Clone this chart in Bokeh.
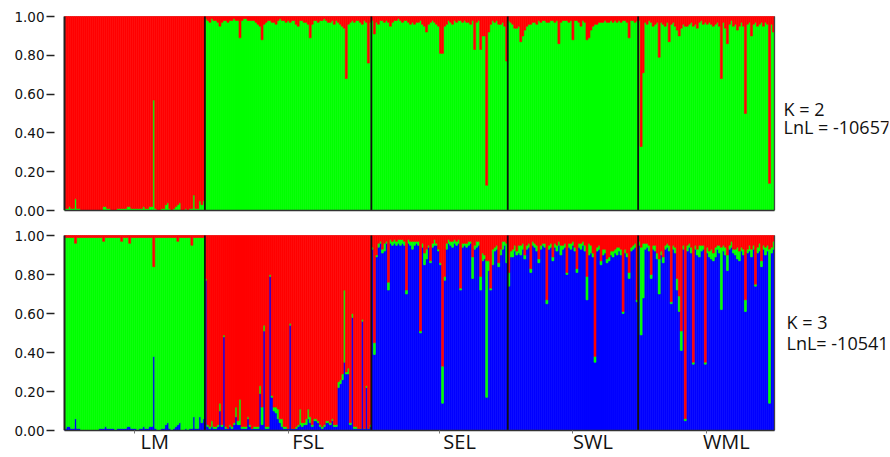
from bokeh.plotting import figure
from bokeh.layouts import column
from bokeh.models import (Range1d, FixedTicker, NumeralTickFormatter, LinearAxis,
                          Label, ColumnDataSource)
from bokeh.embed import file_html
from bokeh.resources import INLINE

groups = ["LM", "FSL", "SEL", "SWL", "WML"]

# ---------- K = 2 : membership in the green cluster (rest = red) ----------
lm_k2_green = [
    0.01, 0.01, 0.02, 0.01, 0.01, 0.06, 0.01, 0.01, 0.00, 0.00,
    0.00, 0.00, 0.00, 0.00, 0.00, 0.00, 0.00, 0.00, 0.00, 0.02,
    0.02, 0.01, 0.01, 0.00, 0.00, 0.00, 0.01, 0.01, 0.01, 0.01,
    0.01, 0.02, 0.02, 0.01, 0.01, 0.01, 0.01, 0.01, 0.01, 0.02,
    0.01, 0.01, 0.02, 0.02, 0.57, 0.01, 0.00, 0.00, 0.01, 0.01,
    0.03, 0.04, 0.01, 0.00, 0.01, 0.02, 0.03, 0.04, 0.00, 0.00,
    0.01, 0.00, 0.01, 0.01, 0.08, 0.01, 0.01, 0.05, 0.03, 0.05]
fsl_k2_green = [
    0.99, 0.98, 0.97, 0.99, 0.98, 0.98, 0.97, 0.95, 0.97, 0.98,
    0.98, 0.97, 0.98, 0.98, 0.99, 0.98, 0.98, 0.89, 0.98, 0.99,
    0.99, 0.98, 0.98, 0.98, 0.98, 0.97, 0.96, 0.95, 0.88, 0.96,
    0.97, 0.98, 0.98, 0.97, 0.97, 0.96, 0.98, 0.99, 0.98, 0.98,
    0.97, 0.98, 0.97, 0.98, 0.98, 0.96, 0.95, 0.98, 0.98, 0.97,
    0.97, 0.96, 0.89, 0.96, 0.98, 0.98, 0.97, 0.98, 0.98, 0.99,
    0.98, 0.97, 0.97, 0.98, 0.96, 0.98, 0.97, 0.96, 0.95, 0.94,
    0.68, 0.96, 0.97, 0.98, 0.97, 0.98, 0.98, 0.97, 0.96, 0.98,
    0.97, 0.76, 0.97]
sel_k2_green = [
    0.98, 0.91, 0.97, 0.96, 0.98, 0.98, 0.97, 0.98, 0.97, 0.95,
    0.97, 0.98, 0.98, 0.99, 0.98, 0.97, 0.98, 0.98, 0.97, 0.96,
    0.97, 0.96, 0.97, 0.97, 0.98, 0.96, 0.95, 0.92, 0.96, 0.97,
    0.98, 0.97, 0.96, 0.95, 0.81, 0.81, 0.95, 0.96, 0.98, 0.97,
    0.96, 0.98, 0.97, 0.98, 0.98, 0.97, 0.98, 0.97, 0.97, 0.96,
    0.98, 0.83, 0.97, 0.98, 0.83, 0.90, 0.90, 0.13, 0.92, 0.96,
    0.98, 0.97, 0.98, 0.96, 0.96, 0.97, 0.95, 0.77]
swl_k2_green = [
    0.98, 0.97, 0.96, 0.94, 0.94, 0.95, 0.87, 0.90, 0.93, 0.95,
    0.96, 0.96, 0.97, 0.97, 0.96, 0.98, 0.97, 0.98, 0.98, 0.97,
    0.97, 0.98, 0.98, 0.97, 0.98, 0.86, 0.97, 0.98, 0.98, 0.98,
    0.97, 0.98, 0.88, 0.98, 0.98, 0.97, 0.95, 0.98, 0.97, 0.88,
    0.89, 0.93, 0.95, 0.96, 0.96, 0.97, 0.97, 0.97, 0.98, 0.97,
    0.97, 0.98, 0.97, 0.98, 0.97, 0.98, 0.97, 0.98, 0.98, 0.97,
    0.89, 0.98, 0.98, 0.97, 0.98]
wml_k2_green = [
    0.98, 0.33, 0.71, 0.97, 0.96, 0.98, 0.97, 0.95, 0.96, 0.97,
    0.79, 0.97, 0.96, 0.95, 0.97, 0.87, 0.96, 0.97, 0.95, 0.93,
    0.90, 0.94, 0.96, 0.95, 0.95, 0.96, 0.97, 0.95, 0.96, 0.94,
    0.97, 0.98, 0.96, 0.97, 0.96, 0.97, 0.96, 0.95, 0.96, 0.97,
    0.95, 0.68, 0.97, 0.94, 0.86, 0.96, 0.98, 0.95, 0.96, 0.93,
    0.95, 0.97, 0.95, 0.50, 0.96, 0.97, 0.90, 0.96, 0.97, 0.95,
    0.96, 0.97, 0.95, 0.97, 0.96, 0.14, 0.96, 0.92]

# ---------- K = 3 : blue (bottom), green (middle); rest = red (top) ----------
lm_k3_blue = [
    0.01, 0.02, 0.02, 0.01, 0.01, 0.06, 0.01, 0.01, 0.00, 0.00,
    0.00, 0.00, 0.00, 0.00, 0.00, 0.00, 0.00, 0.01, 0.01, 0.01,
    0.02, 0.01, 0.01, 0.01, 0.01, 0.00, 0.01, 0.01, 0.01, 0.01,
    0.01, 0.02, 0.02, 0.01, 0.01, 0.01, 0.00, 0.01, 0.01, 0.02,
    0.01, 0.01, 0.02, 0.02, 0.38, 0.01, 0.00, 0.00, 0.01, 0.01,
    0.03, 0.04, 0.01, 0.00, 0.01, 0.02, 0.03, 0.04, 0.00, 0.00,
    0.01, 0.00, 0.01, 0.01, 0.07, 0.01, 0.01, 0.07, 0.04, 0.06]
lm_k3_green = [
    0.98, 0.97, 0.97, 0.98, 0.98, 0.90, 0.98, 0.98, 0.99, 0.99,
    0.99, 0.99, 0.99, 0.99, 0.99, 0.99, 0.99, 0.98, 0.98, 0.96,
    0.97, 0.98, 0.98, 0.98, 0.98, 0.99, 0.98, 0.98, 0.96, 0.98,
    0.98, 0.97, 0.94, 0.98, 0.98, 0.98, 0.99, 0.98, 0.98, 0.97,
    0.98, 0.98, 0.97, 0.97, 0.46, 0.98, 0.99, 0.99, 0.98, 0.98,
    0.96, 0.95, 0.98, 0.99, 0.98, 0.97, 0.94, 0.95, 0.99, 0.99,
    0.98, 0.99, 0.98, 0.94, 0.92, 0.98, 0.98, 0.92, 0.95, 0.93]
fsl_k3_blue = [
    0.77, 0.02, 0.01, 0.02, 0.01, 0.01, 0.02, 0.10, 0.02, 0.48,
    0.01, 0.01, 0.02, 0.01, 0.03, 0.07, 0.03, 0.03, 0.01, 0.01,
    0.01, 0.06, 0.02, 0.01, 0.01, 0.01, 0.01, 0.19, 0.03, 0.51,
    0.01, 0.01, 0.79, 0.17, 0.10, 0.09, 0.06, 0.04, 0.02, 0.01,
    0.01, 0.01, 0.54, 0.01, 0.01, 0.01, 0.02, 0.03, 0.02, 0.03,
    0.03, 0.06, 0.04, 0.02, 0.05, 0.05, 0.04, 0.02, 0.01, 0.02,
    0.04, 0.04, 0.03, 0.05, 0.02, 0.02, 0.22, 0.24, 0.26, 0.35,
    0.29, 0.29, 0.03, 0.58, 0.01, 0.01, 0.01, 0.01, 0.56, 0.01,
    0.22, 0.01, 0.02]
fsl_k3_green = [
    0.01, 0.01, 0.01, 0.03, 0.01, 0.01, 0.01, 0.04, 0.01, 0.01,
    0.01, 0.00, 0.01, 0.01, 0.01, 0.05, 0.02, 0.13, 0.01, 0.01,
    0.01, 0.01, 0.01, 0.00, 0.01, 0.01, 0.01, 0.04, 0.09, 0.03,
    0.01, 0.01, 0.01, 0.01, 0.02, 0.03, 0.05, 0.02, 0.04, 0.01,
    0.01, 0.00, 0.01, 0.00, 0.00, 0.01, 0.01, 0.08, 0.02, 0.01,
    0.03, 0.05, 0.03, 0.01, 0.01, 0.01, 0.01, 0.01, 0.01, 0.01,
    0.01, 0.01, 0.01, 0.01, 0.01, 0.01, 0.03, 0.02, 0.03, 0.37,
    0.01, 0.03, 0.01, 0.02, 0.01, 0.01, 0.00, 0.00, 0.01, 0.00,
    0.01, 0.00, 0.01]
sel_k3_blue = [
    0.93, 0.39, 0.89, 0.94, 0.96, 0.91, 0.92, 0.96, 0.72, 0.96,
    0.95, 0.96, 0.95, 0.96, 0.95, 0.96, 0.95, 0.70, 0.96, 0.95,
    0.93, 0.95, 0.96, 0.95, 0.50, 0.94, 0.85, 0.88, 0.94, 0.86,
    0.94, 0.95, 0.95, 0.92, 0.85, 0.14, 0.77, 0.93, 0.96, 0.95,
    0.94, 0.96, 0.95, 0.96, 0.72, 0.94, 0.95, 0.94, 0.95, 0.96,
    0.78, 0.93, 0.94, 0.95, 0.72, 0.87, 0.88, 0.17, 0.82, 0.72,
    0.85, 0.92, 0.93, 0.84, 0.90, 0.93, 0.95, 0.86]
sel_k3_green = [
    0.01, 0.06, 0.01, 0.02, 0.01, 0.02, 0.04, 0.01, 0.04, 0.02,
    0.02, 0.02, 0.02, 0.02, 0.03, 0.02, 0.02, 0.02, 0.02, 0.02,
    0.04, 0.02, 0.01, 0.02, 0.01, 0.02, 0.06, 0.05, 0.01, 0.01,
    0.02, 0.03, 0.01, 0.01, 0.01, 0.19, 0.02, 0.03, 0.02, 0.02,
    0.03, 0.02, 0.02, 0.02, 0.01, 0.02, 0.01, 0.02, 0.02, 0.01,
    0.11, 0.02, 0.03, 0.02, 0.07, 0.04, 0.02, 0.70, 0.05, 0.01,
    0.08, 0.02, 0.02, 0.02, 0.03, 0.04, 0.02, 0.10]
swl_k3_blue = [
    0.74, 0.89, 0.89, 0.92, 0.90, 0.91, 0.90, 0.93, 0.88, 0.93,
    0.94, 0.81, 0.95, 0.94, 0.92, 0.86, 0.93, 0.95, 0.94, 0.65,
    0.93, 0.94, 0.87, 0.94, 0.92, 0.95, 0.90, 0.93, 0.94, 0.80,
    0.94, 0.93, 0.95, 0.92, 0.81, 0.94, 0.93, 0.95, 0.92, 0.67,
    0.90, 0.91, 0.89, 0.35, 0.92, 0.93, 0.85, 0.90, 0.91, 0.86,
    0.87, 0.90, 0.89, 0.91, 0.90, 0.92, 0.90, 0.60, 0.91, 0.89,
    0.78, 0.92, 0.93, 0.94, 0.66]
swl_k3_green = [
    0.07, 0.03, 0.04, 0.03, 0.02, 0.04, 0.05, 0.03, 0.02, 0.02,
    0.02, 0.02, 0.02, 0.02, 0.03, 0.02, 0.02, 0.01, 0.02, 0.02,
    0.02, 0.02, 0.02, 0.02, 0.03, 0.02, 0.05, 0.02, 0.02, 0.01,
    0.02, 0.03, 0.02, 0.02, 0.02, 0.02, 0.03, 0.02, 0.03, 0.12,
    0.06, 0.04, 0.02, 0.03, 0.02, 0.02, 0.02, 0.03, 0.02, 0.02,
    0.02, 0.02, 0.03, 0.02, 0.04, 0.02, 0.03, 0.01, 0.02, 0.02,
    0.03, 0.02, 0.02, 0.02, 0.01]
wml_k3_blue = [
    0.95, 0.49, 0.68, 0.93, 0.94, 0.92, 0.78, 0.93, 0.92, 0.88,
    0.70, 0.90, 0.86, 0.93, 0.94, 0.92, 0.65, 0.93, 0.91, 0.72,
    0.61, 0.41, 0.93, 0.05, 0.92, 0.94, 0.91, 0.34, 0.93, 0.90,
    0.89, 0.92, 0.93, 0.34, 0.91, 0.89, 0.88, 0.87, 0.89, 0.93,
    0.91, 0.62, 0.92, 0.90, 0.82, 0.93, 0.94, 0.91, 0.90, 0.88,
    0.87, 0.92, 0.90, 0.61, 0.91, 0.92, 0.89, 0.93, 0.74, 0.91,
    0.92, 0.84, 0.93, 0.90, 0.92, 0.14, 0.91, 0.93]
wml_k3_green = [
    0.02, 0.45, 0.28, 0.03, 0.02, 0.03, 0.02, 0.02, 0.03, 0.03,
    0.18, 0.02, 0.03, 0.02, 0.02, 0.03, 0.01, 0.02, 0.03, 0.06,
    0.08, 0.10, 0.02, 0.01, 0.03, 0.02, 0.03, 0.01, 0.02, 0.03,
    0.06, 0.03, 0.02, 0.01, 0.03, 0.03, 0.05, 0.04, 0.05, 0.02,
    0.04, 0.32, 0.03, 0.04, 0.08, 0.02, 0.03, 0.02, 0.03, 0.06,
    0.05, 0.02, 0.03, 0.06, 0.02, 0.03, 0.04, 0.02, 0.01, 0.03,
    0.04, 0.03, 0.02, 0.04, 0.03, 0.79, 0.03, 0.04]

k2_texts = ["K = 2", "LnL = -10657"]
k3_texts = ["K = 3", "LnL= -10541"]
y_ticks = [0.0, 0.2, 0.4, 0.6, 0.8, 1.0]

RED, GREEN, BLUE = "#FF0000", "#00FF00", "#0000FF"

k2_groups = [lm_k2_green, fsl_k2_green, sel_k2_green, swl_k2_green, wml_k2_green]
k3b_groups = [lm_k3_blue, fsl_k3_blue, sel_k3_blue, swl_k3_blue, wml_k3_blue]
k3g_groups = [lm_k3_green, fsl_k3_green, sel_k3_green, swl_k3_green, wml_k3_green]

counts = [len(g) for g in k2_groups]
N = sum(counts)
starts = [sum(counts[:i]) for i in range(len(counts))]
centres = [s + c / 2 for s, c in zip(starts, counts)]

k2_green = [v for g in k2_groups for v in g]
k2_red = [max(0.0, 1 - v) for v in k2_green]
k3_blue = [v for g in k3b_groups for v in g]
k3_green = [v for g in k3g_groups for v in g]
k3_red = [max(0.0, 1 - b - g) for b, g in zip(k3_blue, k3_green)]
xs = [i + 0.5 for i in range(N)]

# ---- pixel geometry
FIG_W = 890
FRAME_LEFT = 54        # tick marks end here
PAD_PX = 10            # gap between tick marks and bar area
PLOT_PX = 710          # width of bar area
FRAME_RIGHT = 888      # frame extended to hold the right-hand texts
px_per_unit = PLOT_PX / N
pad = PAD_PX / px_per_unit
x_end = N + (FRAME_RIGHT - FRAME_LEFT - PAD_PX - PLOT_PX) / px_per_unit
TEXT_LIFT = 7          # px correction for text baseline placement


def make_fig(height, top, frame_h, unit_px):
    p = figure(width=FIG_W, height=height,
               x_range=Range1d(-pad, x_end), y_range=Range1d(0, 1 + 1 / unit_px),
               output_backend="svg", toolbar_location=None,
               min_border_left=FRAME_LEFT, min_border_right=FIG_W - FRAME_RIGHT,
               min_border_top=top, min_border_bottom=height - top - frame_h,
               x_axis_location=None)
    p.xgrid.visible = False
    p.ygrid.visible = False
    p.outline_line_color = None
    p.background_fill_color = "white"
    p.border_fill_color = "white"
    ax = p.yaxis[0]
    ax.ticker = FixedTicker(ticks=y_ticks)
    ax.formatter = NumeralTickFormatter(format="0.00")
    ax.axis_line_color = None
    ax.major_tick_out = 8
    ax.major_tick_in = 0
    ax.major_tick_line_width = 1.5
    ax.major_tick_line_color = "#222222"
    ax.minor_tick_line_color = None
    ax.major_label_standoff = 2
    ax.major_label_text_font = "DejaVu Sans"
    ax.major_label_text_font_size = "13.5px"
    ax.major_label_text_color = "#111111"
    p.segment(x0=[0], y0=[1], x1=[N], y1=[1], line_color="#BBBBBB", line_width=1)
    return p


def finish(p):
    # right and left frame lines of the bar area, group dividers
    p.segment(x0=[N], y0=[0], x1=[N], y1=[1], line_color="#444444", line_width=1.3)
    p.segment(x0=[0], y0=[0], x1=[0], y1=[1], line_color="#222222", line_width=2)
    p.segment(x0=starts[1:], y0=[0] * (len(starts) - 1),
              x1=starts[1:], y1=[1] * (len(starts) - 1),
              line_color="#111111", line_width=1.8)


# ---- top panel (K = 2): page y 0..222, y=1 at 16, y=0 at 210
p1 = make_fig(222, 15, 195, 194)
below1 = LinearAxis(ticker=FixedTicker(ticks=[]), bounds=(0, N),
                    axis_line_color="#333333", axis_line_width=1.6)
p1.add_layout(below1, "below")
src1 = ColumnDataSource(dict(x=xs, green=k2_green, red=k2_red))
p1.vbar_stack(["green", "red"], x="x", width=1.0, source=src1,
              fill_color=[GREEN, RED], line_color=[GREEN, RED], line_width=0.6)
finish(p1)
for txt, base_px in zip(k2_texts, [115, 133]):
    yy = 1 - (base_px - TEXT_LIFT - 16) / 194
    p1.add_layout(Label(x=N + 9 / px_per_unit, y=yy, text=txt,
                        text_font="Open Sans", text_font_size="18px",
                        text_color="#111111", text_baseline="alphabetic"))

# ---- bottom panel (K = 3): page y 222..457, y=1 at 235, y=0 at 430
p2 = make_fig(235, 12, 196, 195)
label_shift = 10  # group names sit slightly right of the group centre
label_pos = [c + label_shift for c in centres]
below2 = LinearAxis(ticker=FixedTicker(ticks=label_pos, minor_ticks=centres),
                    bounds=(0, N),
                    major_label_overrides={pos: name for pos, name in zip(label_pos, groups)},
                    axis_line_color="#333333", axis_line_width=1.6,
                    major_tick_line_color=None, major_tick_out=0, major_tick_in=0,
                    minor_tick_line_color="#777777", minor_tick_out=3, minor_tick_in=0,
                    major_label_standoff=-6,
                    major_label_text_font="Open Sans",
                    major_label_text_font_size="20px",
                    major_label_text_color="#111111")
p2.add_layout(below2, "below")
src2 = ColumnDataSource(dict(x=xs, blue=k3_blue, green=k3_green, red=k3_red))
p2.vbar_stack(["blue", "green", "red"], x="x", width=1.0, source=src2,
              fill_color=[BLUE, GREEN, RED], line_color=[BLUE, GREEN, RED],
              line_width=0.6)
finish(p2)
for txt, base_px in zip(k3_texts, [328, 349]):
    yy = 1 - (base_px - TEXT_LIFT - 235) / 195
    p2.add_layout(Label(x=N + 12 / px_per_unit, y=yy, text=txt,
                        text_font="Open Sans", text_font_size="18px",
                        text_color="#111111", text_baseline="alphabetic"))

layout = column(p1, p2)
open("out.html", "w").write(file_html(layout, INLINE))
